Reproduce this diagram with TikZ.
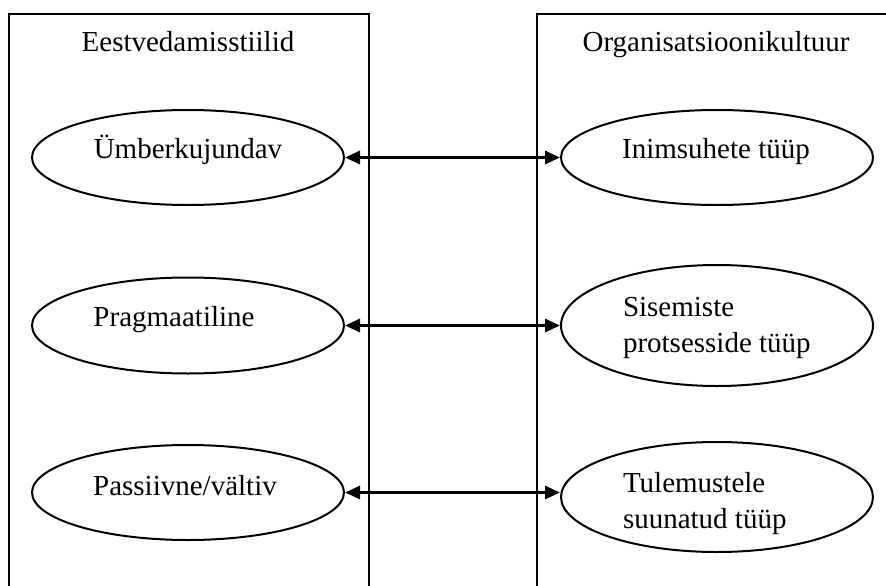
\documentclass[tikz,border=0pt]{standalone}
\usepackage{fontspec}
\setmainfont{Liberation Serif}
\usetikzlibrary{shapes.geometric,arrows.meta}
\begin{document}
\begin{tikzpicture}[x=1pt,y=-1pt, line width=2pt,
  oval/.style={draw, ellipse, minimum width=312pt, inner sep=0pt},
  lbl/.style={font=\fontsize{29}{36}\selectfont, inner sep=0pt, anchor=base},
  lbll/.style={lbl, anchor=base west, align=left},
  link/.style={line width=3pt, {Triangle[length=15pt,width=13pt]}-{Triangle[length=15pt,width=13pt]}}]
\useasboundingbox (0,0) rectangle (886,586);
\clip (0,0) rectangle (886,586);
% frames
\coordinate (fl1) at (8.5,600);
\coordinate (fl2) at (8.5,14);
\coordinate (fl3) at (368.5,14);
\coordinate (fl4) at (368.5,600);
\coordinate (fr1) at (536.5,600);
\coordinate (fr2) at (536.5,14);
\coordinate (fr3) at (900,14);
\draw (fl1) -- (fl2) -- (fl3) -- (fl4);
\draw (fr1) -- (fr2) -- (fr3);
% titles
\node[lbl] (tl) at (188,52) {Eestvedamisstiilid};
\node[lbl] (tr) at (716,52) {Organisatsioonikultuur};
% ellipses
\node[oval, minimum height=95pt] (L1) at (188,157.5) {};
\node[oval, minimum height=96pt] (L2) at (188,325.5) {};
\node[oval, minimum height=95pt] (L3) at (188,492.5) {};
\node[oval, minimum height=95pt] (R1) at (717,157.5) {};
\node[oval, minimum height=121pt] (R2) at (717,325.5) {};
\node[oval, minimum height=110pt] (R3) at (717,497) {};
% texts
\node[lbl] (a1) at (188,158.5) {Ümberkujundav};
\node[lbl] (a2) at (174,326.5) {Pragmaatiline};
\node[lbl] (a3) at (185,495) {Passiivne/vältiv};
\node[lbl] (b1) at (716,158.5) {Inimsuhete tüüp};
\node[lbll] (b2) at (622,352.5) {Sisemiste\\protsesside tüüp};
\node[lbll] (b3) at (622,528.5) {Tulemustele\\suunatud tüüp};
% links
\draw[link] (L1.east) -- (L1.east -| R1.west);
\draw[link] (L2.east) -- (L2.east -| R2.west);
\draw[link] (L3.east) -- (L3.east -| R3.west);
\end{tikzpicture}
\end{document}
